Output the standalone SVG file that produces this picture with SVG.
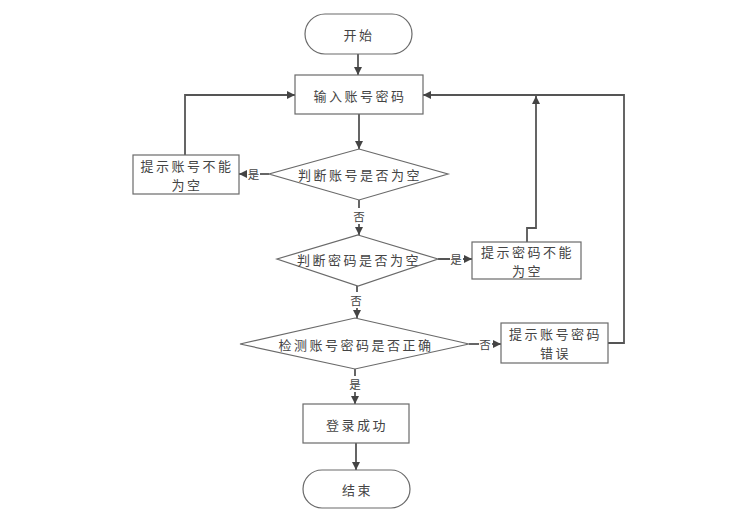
<svg xmlns="http://www.w3.org/2000/svg" width="756" height="527" viewBox="0 0 756 527">
<defs>
<marker id="arr" viewBox="0 0 10 10" refX="10" refY="5" markerWidth="9" markerHeight="8" markerUnits="userSpaceOnUse" orient="auto">
<path d="M0,0 L10,5 L0,10 z" fill="#444"/>
</marker>
<style>
.n{fill:#fff;stroke:#6a6a6a;stroke-width:1.2}
.t{font-family:"Noto Sans CJK SC","Noto Sans CJK JP",sans-serif;font-size:13px;fill:#444;text-anchor:middle;dominant-baseline:central;letter-spacing:2.5px}
.l{font-family:"Noto Sans CJK SC","Noto Sans CJK JP",sans-serif;font-size:11.5px;fill:#444;text-anchor:middle;dominant-baseline:central}
.c{fill:none;stroke:#555;stroke-width:1.8}
.a{marker-end:url(#arr)}
</style>
</defs>
<rect width="756" height="527" fill="#fff"/>
<g id="connectors">
<path class="c a" d="M358,54 V75"/>
<path class="c a" d="M359,114 V149"/>
<path class="c a" d="M269,174 H239"/>
<path class="c a" d="M185,155 V95 H295"/>
<path class="c a" d="M359,200 V235"/>
<path class="c a" d="M438,259 H472"/>
<path class="c a" d="M527,242 V228 H536 V96"/>
<path class="c a" d="M357,286 V318"/>
<path class="c a" d="M469,344 H501"/>
<path class="c a" d="M608,343 H624 V95 H423"/>
<path class="c a" d="M355,369 V404"/>
<path class="c a" d="M356,443 V470"/>
<rect x="247" y="166" width="13" height="16" fill="#fff"/>
<text class="l" x="253.5" y="174">是</text>
<rect x="353" y="208" width="13" height="16" fill="#fff"/>
<text class="l" x="359" y="216">否</text>
<rect x="450" y="251" width="13" height="16" fill="#fff"/>
<text class="l" x="456" y="259">是</text>
<rect x="350" y="292" width="13" height="16" fill="#fff"/>
<text class="l" x="356" y="300">否</text>
<rect x="479" y="336" width="13" height="16" fill="#fff"/>
<text class="l" x="485" y="344">否</text>
<rect x="349" y="376" width="13" height="16" fill="#fff"/>
<text class="l" x="355" y="384">是</text>
</g>
<g id="start"><rect class="n" x="305" y="14" width="107" height="40" rx="20"/><text class="t" x="359" y="34">开始</text></g>
<g id="input"><rect class="n" x="295" y="75" width="128" height="39"/><text class="t" x="360" y="95">输入账号密码</text></g>
<g id="d1"><polygon class="n" points="359,149 448,174 359,200 269,174"/><text class="t" x="360" y="174">判断账号是否为空</text></g>
<g id="box1"><rect class="n" x="133" y="155" width="106" height="39"/><text class="t" x="187" y="165">提示账号不能</text><text class="t" x="187" y="184">为空</text></g>
<g id="d2"><polygon class="n" points="358,235 438,259 358,286 277,259"/><text class="t" x="359" y="259">判断密码是否为空</text></g>
<g id="box2"><rect class="n" x="472" y="242" width="109" height="37"/><text class="t" x="527.5" y="251">提示密码不能</text><text class="t" x="527.5" y="270">为空</text></g>
<g id="d3"><polygon class="n" points="355,318 469,344 355,369 240,344"/><text class="t" x="356" y="344">检测账号密码是否正确</text></g>
<g id="box3"><rect class="n" x="501" y="323" width="107" height="40"/><text class="t" x="555.5" y="333.5">提示账号密码</text><text class="t" x="555.5" y="352.5">错误</text></g>
<g id="login"><rect class="n" x="303" y="404" width="106" height="39"/><text class="t" x="357" y="424">登录成功</text></g>
<g id="end"><rect class="n" x="303" y="470" width="107" height="38" rx="19"/><text class="t" x="357.5" y="489">结束</text></g>
</svg>
